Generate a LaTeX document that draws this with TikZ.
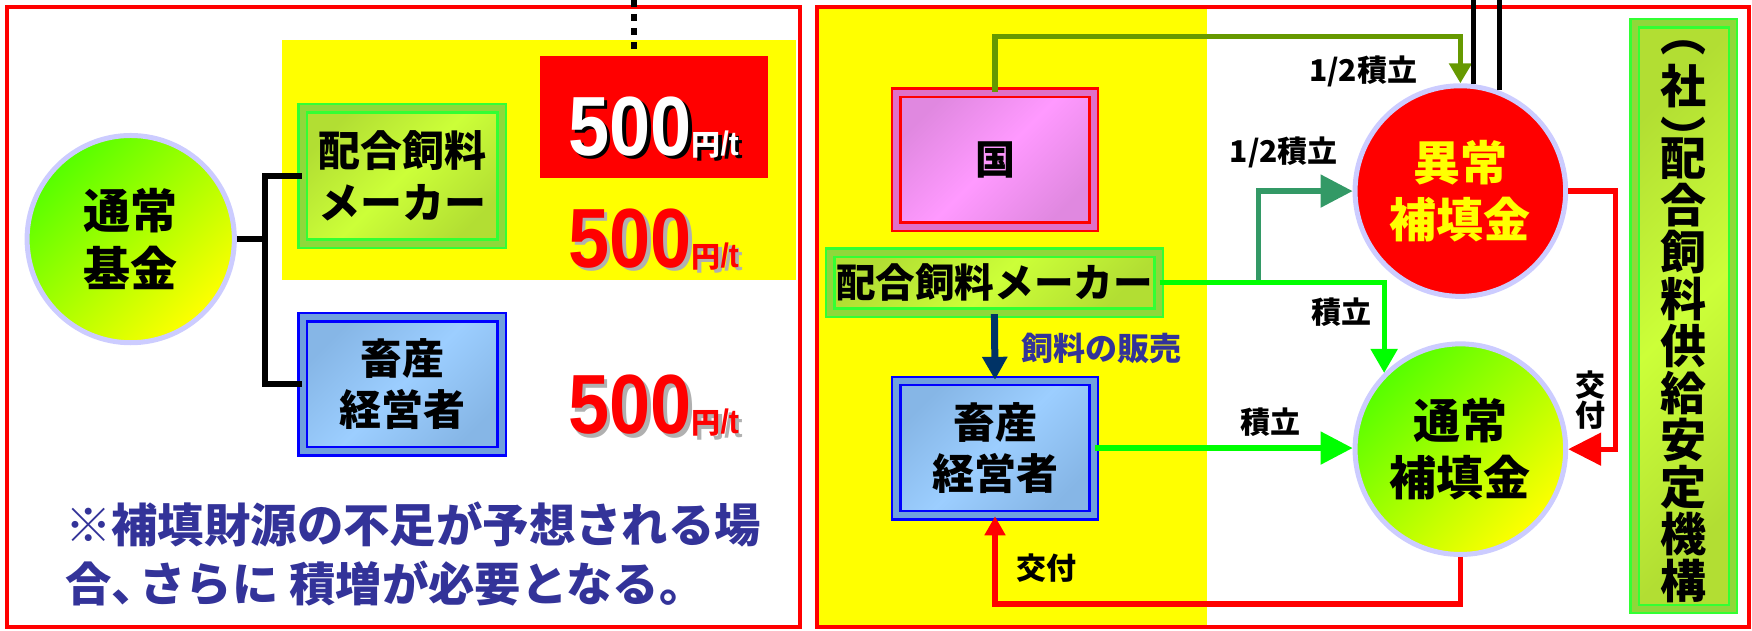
\documentclass[tikz,border=0pt]{standalone}
\usepackage{fontspec}
\setmainfont{Noto Sans CJK JP}
\newfontfamily\numfont{Liberation Sans}[FakeStretch=0.88]
\usetikzlibrary{arrows.meta}

\definecolor{fyellow}{HTML}{FFFF00}
\definecolor{fred}{HTML}{FF0000}
\definecolor{lav}{HTML}{CCCCFF}
\definecolor{fgreen}{HTML}{00FF00}
\definecolor{folive}{HTML}{669900}
\definecolor{fteal}{HTML}{339966}
\definecolor{fnavy}{HTML}{003366}
\definecolor{notecol}{HTML}{333399}
\definecolor{shadowgrey}{HTML}{B0B0B0}
\definecolor{gbline}{HTML}{33FF33}
\definecolor{gbedge}{HTML}{B2DE33}
\definecolor{gbmid}{HTML}{CCFF38}
\definecolor{gbband}{HTML}{8FD83A}
\definecolor{bbline}{HTML}{0000FF}
\definecolor{bbedge}{HTML}{86B6E6}
\definecolor{bbmid}{HTML}{9CCEFF}
\definecolor{bbband}{HTML}{70A0DD}
\definecolor{pbedge}{HTML}{E088E0}
\definecolor{pbmid}{HTML}{FF99FF}
\definecolor{pbband}{HTML}{E070C8}
\definecolor{fundgreen}{HTML}{55FF00}

\newcommand{\pu}{0.5587pt}
\newcommand{\pricetag}{{\numfont\fontsize{42}{42}\selectfont 500}{\fontsize{14.5}{14.5}\selectfont 円{\numfont\fontsize{17}{17}\selectfont /t}}}
\newcommand{\withshadow}[3]{\rlap{\kern1.8pt\raisebox{-1.8pt}{\color{#1}#3}}{\color{#2}#3}}

\begin{document}
\begin{tikzpicture}[x=\pu,y=-\pu,
    fund/.style={circle,draw=lav,line width=2.5pt,minimum size=188.5*\pu,inner sep=0pt,align=center,
      font=\bfseries\fontsize{23.5}{28.8}\selectfont},
    normalfund/.style={fund,top color=fundgreen,bottom color=fyellow,shading angle=45},
    bevel/.style={rectangle,draw=#1,line width=1.2pt,double distance=3pt,inner sep=0pt,align=center,
      font=\bfseries\fontsize{21}{25.7}\selectfont},
    greenbox/.style={bevel=gbline,double=gbband,top color=gbedge,bottom color=gbedge,middle color=gbmid,shading angle=45},
    bluebox/.style={bevel=bbline,double=bbband,top color=bbedge,bottom color=bbedge,middle color=bbmid,shading angle=45},
    pinkbox/.style={bevel=fred,double=pbband,top color=pbedge,bottom color=pbedge,middle color=pbmid,shading angle=45},
    flow/.style={line width=2.6pt},
    lbl/.style={font=\bfseries\fontsize{15}{15}\selectfont},
  ]
\useasboundingbox (0,0) rectangle (1568,564);
\coordinate (frametop) at (0,0);
% backgrounds and frames
\fill[fyellow] (252,36) rectangle (712,251);
\fill[fyellow] (733,8) rectangle (1080,560);
\draw[fred,line width=2pt] (6,6) rectangle (716,561);
\draw[fred,line width=2pt] (731,6) rectangle (1565,561);

% left half
\node[normalfund,minimum size=185.5*\pu] (lfund) at (117,214) {通常\\基金};
\node[greenbox,minimum width=178*\pu,minimum height=121*\pu] (lmaker) at (360,157.5) {配合飼料\\メーカー};
\node[bluebox,minimum width=178*\pu,minimum height=120*\pu] (lfarmer) at (360,344) {畜産\\経営者};
\node[fill=fred,minimum width=204*\pu,minimum height=109*\pu] (lred) at (585,104.5) {};
\node[font=\bfseries,anchor=base] (price1) at (585,139) {\withshadow{black}{white}{\pricetag}};
\node[font=\bfseries,anchor=base] (price2) at (585,239) {\withshadow{shadowgrey}{fred}{\pricetag}};
\node[font=\bfseries,anchor=base] (price3) at (585,388) {\withshadow{shadowgrey}{fred}{\pricetag}};
\coordinate (brk) at (237,214);
\draw[line width=3pt] (lmaker.west) -| (brk) |- (lfarmer.west);
\draw[line width=3pt] (lfund) -- (brk);
\coordinate (dottop) at (567,0);
\draw[line width=3pt,dash pattern=on 3.5pt off 3.5pt] (dottop) -- (dottop |- lred.north);
\node[anchor=west,align=left,text=notecol,font=\bfseries\fontsize{23.2}{29.6}\selectfont] (note) at (52,496)
  {※補填財源の不足が予想される場\\合、\kern-0.4em さらに 積増が必要となる。};

% right half
\node[pinkbox,minimum width=177*\pu,minimum height=120*\pu,font=\bfseries\fontsize{20}{20}\selectfont] (kuni) at (890.5,143) {国};
\node[greenbox,minimum width=294*\pu,minimum height=54*\pu,font=\bfseries\fontsize{19.8}{19.8}\selectfont] (rmaker) at (890,253) {配合飼料メーカー};
\node[bluebox,minimum width=177*\pu,minimum height=120*\pu] (rfarmer) at (890.5,401) {畜産\\経営者};
\node[fund,fill=fred,text=fyellow,font=\bfseries\fontsize{23.5}{28.5}\selectfont] (ijo) at (1307,171) {異常\\補填金};
\node[normalfund] (tsujo) at (1307,402) {通常\\補填金};
\node[greenbox,minimum width=88*\pu,minimum height=524*\pu,font=\bfseries\fontsize{23}{23.5}\selectfont] (kiko) at (1507,283)
  {\rule{0pt}{10.8pt}︵\\[2.4pt]社\\[2.6pt]︶\\[-13.6pt]配\\合\\飼\\料\\供\\給\\安\\定\\機\\構};

% flows
\coordinate (olivetop) at (1307,33);
\draw[flow,folive,-{Triangle[length=10pt,width=11pt]}] (kuni) |- (olivetop) -- (ijo);
\draw[line width=2.5pt] (ijo.83) -- (ijo.83 |- frametop);
\draw[line width=2.5pt] (ijo.69) -- (ijo.69 |- frametop);
\coordinate (tealbend) at (1126,253);
\draw[flow,fteal,-{Triangle[length=16pt,width=16pt]}] (rmaker.east) -- (tealbend) |- (ijo.west);
\draw[flow,fgreen,-{Triangle[length=12pt,width=13pt]}] (rmaker.east) -| (tsujo.135);
\draw[flow,fgreen,-{Triangle[length=16pt,width=16pt]}] (rfarmer.east) -- (rfarmer.east -| tsujo.west);
\draw[line width=3.5pt,fnavy,-{Triangle[length=11.5pt,width=12pt]}] (rmaker.south) -- (rfarmer.north);
\draw[flow,fred,-{Triangle[length=16.5pt,width=16pt]}] (ijo.east) -- ++(42,0) |- (tsujo.east);
\draw[flow,fred,-{Triangle[length=9.5pt,width=10pt]}] (tsujo.south) -- ++(0,42) -| (rfarmer.south);

% labels
\node[lbl] (half1) at (1220,64) {1/2積立};
\node[lbl] (half2) at (1149,136) {1/2積立};
\node[lbl] (tsumi1) at (1201,279) {積立};
\node[lbl] (tsumi2) at (1137,378) {積立};
\node[lbl,align=center] (kofu1) at (1423,358) {交\\付};
\node[lbl] (kofu2) at (937,508) {交付};
\node[text=notecol,font=\bfseries\fontsize{16}{16}\selectfont] (sale) at (986,312) {飼料の販売};
\end{tikzpicture}
\end{document}
